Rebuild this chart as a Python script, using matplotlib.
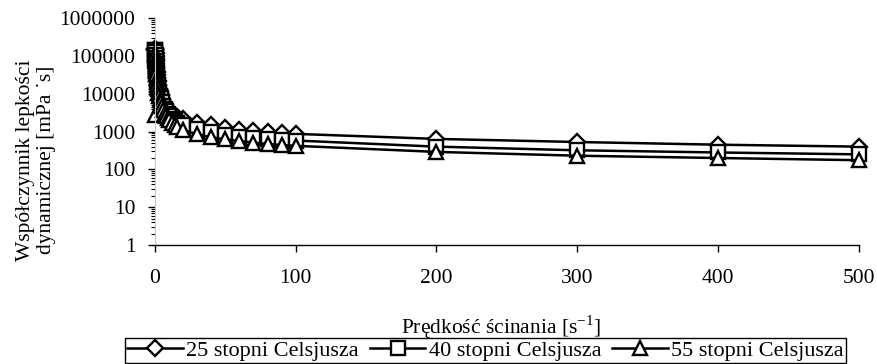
import matplotlib
matplotlib.use("Agg")
import matplotlib.pyplot as plt
from matplotlib.ticker import LogLocator, FuncFormatter, NullFormatter

plt.rcParams['font.family'] = ['Liberation Serif', 'DejaVu Serif']

# szybkosc scinania [1/s]
shear = [0.1, 0.2, 0.3, 0.4, 0.5, 0.6, 0.7, 0.8, 0.9, 1, 1.25, 1.5, 1.75, 2, 2.5, 3, 3.5, 4,
         5, 6, 7, 8, 9, 10, 12, 14, 16,
         20, 30, 40, 50, 60, 70, 80, 90, 100, 200, 300, 400, 500]

# lepkosc [mPa*s]
visc_25 = [150000, 150000, 140000, 120000, 100000, 85000, 72000, 62000, 55000, 48000, 38000, 31000, 26000,
           22000, 17000, 13500, 11000, 9500,
           7500, 6000, 5000, 4300, 3800, 3400, 2900, 2600, 2400,
           2100, 1700, 1450, 1250, 1120, 1030, 970, 920, 870, 640, 530, 450, 400]
visc_40 = [140000, 140000, 125000, 105000, 88000, 74000, 62000, 53000, 46000, 40000, 31000, 25000, 20000,
           17000, 13000, 10500, 8800, 7600,
           6000, 4800, 4000, 3400, 3000, 2600, 2200, 1900, 1700,
           1450, 1150, 950, 830, 740, 680, 630, 600, 580, 400, 320, 280, 250]
visc_55 = [2800, 120000, 105000, 90000, 75000, 63000, 53000, 45000, 39000, 34000, 26000, 21000, 17000,
           14000, 10500, 8500, 7000, 6000,
           4700, 3800, 3100, 2600, 2300, 2000, 1700, 1450, 1300,
           1100, 850, 700, 620, 565, 510, 470, 440, 420, 290, 230, 200, 175]

labels = ['25 stopni Celsjusza', '40 stopni Celsjusza', '55 stopni Celsjusza']
fs = 16

fig = plt.figure(figsize=(8.78, 3.64), dpi=100)
ax = fig.add_axes([0.1765, 0.327, 0.8015, 0.623])

styl = dict(color='black', lw=1.8, markersize=10, markerfacecolor='white',
            markeredgecolor='black', markeredgewidth=1.7, clip_on=False)
ax.plot(shear, visc_25, marker='D', label=labels[0], **dict(styl, markersize=8))
ax.plot(shear, visc_40, marker='s', label=labels[1], **styl)
ax.plot(shear, visc_55, marker='^', label=labels[2], **styl)

ax.set_yscale('log')
ax.set_ylim(1, 1000000)
ax.set_xlim(0, 500)
ax.set_xticks([0, 100, 200, 300, 400, 500])
ax.yaxis.set_major_locator(LogLocator(base=10, numticks=10))
ax.yaxis.set_minor_locator(LogLocator(base=10, subs=range(2, 10), numticks=20))
ax.yaxis.set_major_formatter(FuncFormatter(lambda v, p: '%d' % round(v)))
ax.yaxis.set_minor_formatter(NullFormatter())

ax.spines['top'].set_visible(False)
ax.spines['right'].set_visible(False)
ax.spines['left'].set_color('#c8c8c8')
ax.spines['bottom'].set_linewidth(1.0)
ax.tick_params(axis='both', which='major', labelsize=15.5, direction='out', length=5, width=1)
ax.tick_params(axis='y', which='minor', direction='out', length=3, width=0.8)
ax.tick_params(axis='x', pad=12)
ax.tick_params(axis='y', pad=9)

# opis osi Y (dwie linie)
fig.text(36 / 878, 1 - 160 / 364, 'Współczynnik lepkości\ndynamicznej [mPa ˙s]', fontsize=15.5,
         rotation=90, ha='center', va='center', multialignment='center')
fig.text(0.57, 0.1, 'Prędkość ścinania [s$^{\\mathregular{-1}}$]', fontsize=15.5, ha='center', va='center')

leg = fig.legend(loc='center', bbox_to_anchor=(0.553, 0.036), ncol=3, fontsize=fs,
                 frameon=True, fancybox=False, edgecolor='black', framealpha=1,
                 borderpad=0.1, handlelength=2.5, handletextpad=0.15, columnspacing=0.5)
leg.get_frame().set_linewidth(1.0)

fig.savefig('out.png', dpi=100)
